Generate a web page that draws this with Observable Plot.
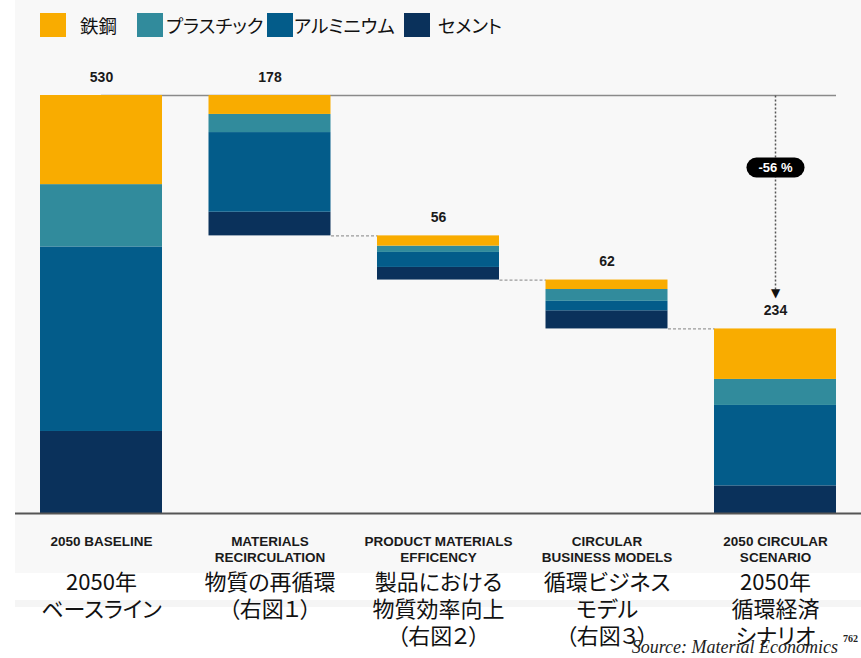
<!DOCTYPE html>
<html><head><meta charset="utf-8">
<script src="https://cdn.jsdelivr.net/npm/d3@7"></script>
<script src="https://cdn.jsdelivr.net/npm/@observablehq/plot@0.6"></script>
<style>
html,body{margin:0;padding:0;background:#fff;}
#wrap{position:relative;width:861px;height:658px;overflow:hidden;font-feature-settings:"palt";}
#bg{position:absolute;left:15px;top:0;width:846px;height:573px;background:#f8f8f8;}
#strip{position:absolute;left:15px;top:600px;width:846px;height:7px;background:#f5f5f5;}
#legend{position:absolute;left:0;top:0;width:861px;height:50px;}
.sw{position:absolute;top:13px;width:26px;height:24px;}
.lb{position:absolute;top:12px;font-family:"Noto Sans CJK JP";font-size:18.5px;line-height:26px;color:#111;white-space:nowrap;}
#chart{position:absolute;left:0;top:50px;}
#source{position:absolute;right:23px;top:638px;font-family:"Liberation Serif";font-style:italic;font-size:18px;line-height:18px;color:#222;white-space:nowrap;}
#pg{position:absolute;left:843px;top:634px;font-family:"Liberation Serif";font-weight:bold;font-size:10px;line-height:10px;color:#222;}
</style>
</head><body>
<div id="wrap">
  <div id="bg"></div>
  <div id="strip"></div>
  <div id="legend"></div>
  <div id="chart"></div>
  <div id="source">Source: Material Economics</div>
  <div id="pg">762</div>
</div>
<script>
// ---- data ----
const categories = ["2050 BASELINE", "MATERIALS\nRECIRCULATION", "PRODUCT MATERIALS\nEFFICENCY", "CIRCULAR\nBUSINESS MODELS", "2050 CIRCULAR\nSCENARIO"];
const jpLabels = ["2050年\nベースライン", "物質の再循環\n（右図１）", "製品における\n物質効率向上\n（右図２）", "循環ビジネス\nモデル\n（右図３）", "2050年\n循環経済\nシナリオ"];
const materials = ["鉄鋼", "プラスチック", "アルミニウム", "セメント"];
const steel     = [113, 24, 13, 12, 64];
const plastic   = [79, 23, 8, 15, 33];
const aluminium = [234, 101, 19, 12, 102];
const cement    = [104, 30, 16, 23, 35];
const totals    = [530, 178, 56, 62, 234];
const reductionLabel = "-56 %";

// ---- styles / layout ----
const colors = ["#F9AC00", "#318B9C", "#035C8A", "#0A315B"];
const legendLeft = [40, 137, 267, 404];
const legendTextLeft = [80, 166, 294, 438];
const h = 0.362;      // half bar width in band units
const pad = 0.1484;   // outer padding

// legend (HTML)
const lg = document.getElementById("legend");
materials.forEach((m, k) => {
  const s = document.createElement("div");
  s.className = "sw"; s.style.left = legendLeft[k] + "px"; s.style.background = colors[k];
  lg.appendChild(s);
  const t = document.createElement("div");
  t.className = "lb"; t.style.left = legendTextLeft[k] + "px"; t.textContent = m;
  lg.appendChild(t);
});

// waterfall positions
const n = totals.length;
const tops = [], bottoms = [];
tops[0] = totals[0]; bottoms[0] = 0;
let level = totals[0];
for (let i = 1; i < n - 1; i++) { tops[i] = level; bottoms[i] = level - totals[i]; level = bottoms[i]; }
tops[n - 1] = totals[n - 1]; bottoms[n - 1] = 0;

const series = {"鉄鋼": steel, "プラスチック": plastic, "アルミニウム": aluminium, "セメント": cement};
const stackOrder = ["セメント", "アルミニウム", "プラスチック", "鉄鋼"];
const segs = [];
for (let i = 0; i < n; i++) {
  let y = bottoms[i];
  for (const m of stackOrder) {
    const v = series[m][i];
    segs.push({x1: i - h, x2: i + h, y1: y, y2: y + v, material: m});
    y += v;
  }
}
const bars = totals.map((t, i) => ({i, total: t, top: tops[i]}));
const conns = [];
for (let i = 1; i < n - 1; i++) conns.push({x1: i + h, x2: i + 1 - h, y: bottoms[i]});
const topLine = [{x1: 0, x2: n - 1 + h, y: totals[0]}];
const arrow = [{x: n - 1, y1: totals[0], y2: 284}];
const head = [{x: n - 1, y: 274}];
const pill = [{x: n - 1, y: 438.7, label: reductionLabel}];

const chart = Plot.plot({
  width: 861, height: 608,
  marginLeft: 15, marginRight: 0, marginTop: 45, marginBottom: 145,
  x: {domain: [-h - pad, n - 1 + h + pad], axis: null},
  y: {domain: [0, totals[0]], axis: null},
  color: {domain: materials, range: colors},
  style: {background: "transparent", overflow: "visible"},
  marks: [
    Plot.ruleY(topLine, {y: "y", x1: "x1", x2: "x2", stroke: "#8a8a8a", strokeWidth: 1.5}),
    Plot.link(conns, {x1: "x1", x2: "x2", y1: "y", y2: "y", stroke: "#9a9a9a", strokeWidth: 1.2, strokeDasharray: "3,2"}),
    Plot.rect(segs, {x1: "x1", x2: "x2", y1: "y1", y2: "y2", fill: "material"}),
    Plot.ruleY([0], {stroke: "#555", strokeWidth: 2}),
    Plot.text(bars, {x: "i", y: "top", text: d => String(d.total), dy: -14, lineAnchor: "bottom",
      fontSize: 14, fontWeight: "bold", fontFamily: "Liberation Sans", fill: "#1a1a1a"}),
    Plot.link(arrow, {x1: "x", x2: "x", y1: "y1", y2: "y2", stroke: "#555", strokeWidth: 1.5, strokeDasharray: "2,2"}),
    Plot.text(head, {x: "x", y: "y", text: () => "▼", lineAnchor: "bottom", fontSize: 12, fontFamily: "DejaVu Sans", fill: "#111"}),
    Plot.link(pill, {x1: d => d.x - 0.113, x2: d => d.x + 0.113, y1: "y", y2: "y", stroke: "#000", strokeWidth: 20, strokeLinecap: "round"}),
    Plot.text(pill, {x: "x", y: "y", text: "label", lineAnchor: "middle", fill: "#fff", fontSize: 13, fontWeight: "bold", fontFamily: "Liberation Sans"}),
    Plot.text(categories, {x: (d, i) => i, y: () => 0, text: d => d, lineAnchor: "top", dy: 21,
      fontSize: 13.5, fontWeight: "bold", fontFamily: "Liberation Sans", lineHeight: 16 / 13.5, fill: "#1a1a1a"}),
    Plot.text(jpLabels, {x: (d, i) => i, y: () => 0, text: d => d, lineAnchor: "top", dy: 57,
      fontSize: 22, fontFamily: "Noto Sans CJK JP", lineHeight: 27 / 22, fill: "#111"})
  ]
});
document.getElementById("chart").appendChild(chart);
</script>
</body></html>
